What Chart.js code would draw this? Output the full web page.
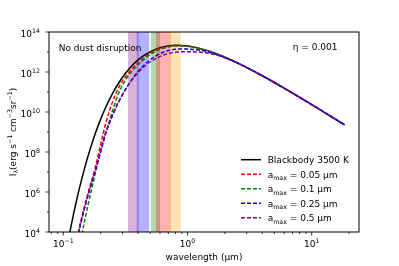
<!DOCTYPE html>
<html>
<head>
<meta charset="utf-8">
<script src="https://cdn.jsdelivr.net/npm/chart.js@4.4.1/dist/chart.umd.min.js"></script>
<style>
html, body { margin: 0; padding: 0; background: #fff; }
canvas { display: block; }
</style>
</head>
<body>
<canvas id="grafico" width="399" height="266"></canvas>
<script>
// longitudes de onda (um)
const wavelength = [0.11, 0.12, 0.13, 0.14, 0.15, 0.16, 0.18, 0.20, 0.22, 0.25, 0.28, 0.32, 0.36, 0.40, 0.45, 0.50, 0.56, 0.63, 0.70, 0.80, 0.90, 1.0, 1.2, 1.4, 1.7, 2.0, 2.5, 3, 4, 5, 6, 8, 10, 12, 15, 18.4];

// I_lambda (erg s-1 cm-3 sr-1)
const blackbody = [4.36e3, 6.34e4, 5.93e5, 3.91e6, 1.97e7, 7.89e7, 7.62e8, 4.41e9, 1.77e10, 8.81e10, 2.91e11, 9.35e11, 2.17e12, 4.01e12, 6.97e12, 1.02e13, 1.40e13, 1.76e13, 2.00e13, 2.15e13, 2.12e13, 1.99e13, 1.61e13, 1.24e13, 8.20e12, 5.47e12, 2.92e12, 1.67e12, 6.49e11, 2.99e11, 1.56e11, 5.42e10, 2.34e10, 1.17e10, 4.98e9, 2.26e9];
const amax005 = [4.16e1, 6.49e2, 6.35e3, 4.49e4, 2.48e5, 1.09e6, 1.52e7, 2.48e8, 2.81e9, 3.35e10, 1.75e11, 6.32e11, 1.50e12, 2.84e12, 5.53e12, 8.91e12, 1.28e13, 1.64e13, 1.91e13, 2.10e13, 2.07e13, 1.96e13, 1.61e13, 1.24e13, 8.20e12, 5.47e12, 2.92e12, 1.67e12, 6.49e11, 2.99e11, 1.56e11, 5.42e10, 2.34e10, 1.17e10, 4.98e9, 2.26e9];
const amax01 = [2.18e0, 4.00e1, 4.71e2, 5.52e3, 4.94e4, 3.14e5, 7.62e6, 1.11e8, 8.89e8, 1.24e10, 9.20e10, 4.38e11, 1.16e12, 2.31e12, 4.40e12, 7.41e12, 1.11e13, 1.50e13, 1.79e13, 2.00e13, 2.02e13, 1.92e13, 1.57e13, 1.24e13, 8.20e12, 5.47e12, 2.92e12, 1.67e12, 6.49e11, 2.99e11, 1.56e11, 5.42e10, 2.34e10, 1.17e10, 4.98e9, 2.26e9];
const amax025 = [3.46e1, 5.40e2, 5.28e3, 3.73e4, 2.06e5, 8.85e5, 1.00e7, 1.06e8, 8.89e8, 7.00e9, 3.27e10, 1.48e11, 4.53e11, 1.05e12, 2.31e12, 4.07e12, 6.56e12, 9.46e12, 1.18e13, 1.36e13, 1.43e13, 1.41e13, 1.28e13, 1.08e13, 7.66e12, 5.35e12, 2.92e12, 1.67e12, 6.49e11, 2.99e11, 1.56e11, 5.42e10, 2.34e10, 1.17e10, 4.98e9, 2.26e9];
const amax05 = [3.88e1, 6.05e2, 5.93e3, 4.19e4, 2.31e5, 9.93e5, 1.08e7, 1.16e8, 9.98e8, 7.85e9, 3.50e10, 1.48e11, 4.33e11, 9.62e11, 1.92e12, 3.16e12, 4.86e12, 6.70e12, 8.36e12, 9.82e12, 1.04e13, 1.04e13, 1.01e13, 9.18e12, 7.14e12, 5.11e12, 2.85e12, 1.67e12, 6.49e11, 2.99e11, 1.56e11, 5.42e10, 2.34e10, 1.17e10, 4.98e9, 2.26e9];

// bandas fotometricas (um)
const bandStart = [0.332, 0.390, 0.506, 0.557, 0.710];
const bandEnd = [0.405, 0.492, 0.601, 0.732, 0.881];
const bandColors = ["rgba(128,0,128,0.3)", "rgba(0,0,255,0.3)", "rgba(0,128,0,0.3)", "rgba(255,0,0,0.3)", "rgba(255,165,0,0.3)"];

// leyenda
const seriesNames = ["Blackbody 3500 K", "0.05", "0.1", "0.25", "0.5"];
const seriesColors = ["#000000", "#ff0000", "#008000", "#0000ff", "#800080"];

// ticks
const xMajor = [0.1, 1, 10];
const xMajorExp = ["\u22121", "0", "1"];
const xMinor = [0.08, 0.09, 0.2, 0.3, 0.4, 0.5, 0.6, 0.7, 0.8, 0.9, 2, 3, 4, 5, 6, 7, 8, 9, 20];
const yMajor = [1e4, 1e6, 1e8, 1e10, 1e12, 1e14];
const yMajorExp = ["4", "6", "8", "10", "12", "14"];
const yMinor = [1e5, 1e7, 1e9, 1e11, 1e13];

const FONT = '"DejaVu Sans", sans-serif';

function puntos(valores) {
    return wavelength.map((w, i) => ({ x: w, y: valores[i] }));
}

// texto con sub/superindices: partes [{t, m}] m = "sup" | "sub" | ""
function textoRico(ctx, partes, x, y, size, align) {
    const small = size * 0.7;
    const anchos = partes.map(p => {
        ctx.font = (p.m ? small : size) + "px " + FONT;
        return ctx.measureText(p.t).width;
    });
    const total = anchos.reduce((a, b) => a + b, 0);
    let cx = align === "right" ? x - total : align === "center" ? x - total / 2 : x;
    ctx.textAlign = "left";
    ctx.textBaseline = "alphabetic";
    partes.forEach((p, i) => {
        ctx.font = (p.m ? small : size) + "px " + FONT;
        const dy = p.m === "sup" ? -size * 0.4 : p.m === "sub" ? size * 0.3 : 0;
        ctx.fillText(p.t, cx, y + dy);
        cx += anchos[i];
    });
}

const decorado = {
    id: "decorado",
    beforeDatasetsDraw(chart) {
        const { ctx, chartArea: a, scales: { x } } = chart;
        ctx.save();
        ctx.beginPath();
        ctx.rect(a.left, a.top, a.right - a.left, a.bottom - a.top);
        ctx.clip();
        bandStart.forEach((b, i) => {
            const x0 = x.getPixelForValue(b);
            const x1 = x.getPixelForValue(bandEnd[i]);
            ctx.fillStyle = bandColors[i];
            ctx.fillRect(x0, a.top, x1 - x0, a.bottom - a.top);
        });
        ctx.restore();
    },
    afterDraw(chart) {
        const { ctx, chartArea: a, scales: { x, y } } = chart;
        ctx.save();
        ctx.fillStyle = "#000";
        ctx.strokeStyle = "#000";

        // marco
        ctx.lineWidth = 1;
        ctx.strokeRect(a.left, a.top, a.right - a.left, a.bottom - a.top);

        // ticks eje x
        ctx.lineWidth = 0.8;
        ctx.beginPath();
        xMajor.forEach(v => {
            const px = x.getPixelForValue(v);
            ctx.moveTo(px, a.bottom); ctx.lineTo(px, a.bottom + 3.5);
        });
        xMinor.forEach(v => {
            const px = x.getPixelForValue(v);
            ctx.moveTo(px, a.bottom); ctx.lineTo(px, a.bottom + 2);
        });
        // ticks eje y
        yMajor.forEach(v => {
            const py = y.getPixelForValue(v);
            ctx.moveTo(a.left, py); ctx.lineTo(a.left - 3.5, py);
        });
        yMinor.forEach(v => {
            const py = y.getPixelForValue(v);
            ctx.moveTo(a.left, py); ctx.lineTo(a.left - 2, py);
        });
        ctx.stroke();

        // etiquetas
        xMajor.forEach((v, i) => {
            const px = x.getPixelForValue(v);
            textoRico(ctx, [{ t: "10", m: "" }, { t: xMajorExp[i], m: "sup" }], px, a.bottom + 15, 9, "center");
        });
        yMajor.forEach((v, i) => {
            const py = y.getPixelForValue(v);
            textoRico(ctx, [{ t: "10", m: "" }, { t: yMajorExp[i], m: "sup" }], 40, py + 4.6, 9, "right");
        });

        // titulo eje y
        ctx.save();
        ctx.translate(15.5, (a.top + a.bottom) / 2);
        ctx.rotate(-Math.PI / 2);
        textoRico(ctx, [
            { t: "I", m: "" }, { t: "\u03bb", m: "sub" }, { t: "(erg s", m: "" }, { t: "\u22121", m: "sup" },
            { t: " cm", m: "" }, { t: "\u22123", m: "sup" }, { t: "sr", m: "" }, { t: "\u22121", m: "sup" }, { t: ")", m: "" }
        ], 0, 0, 9, "center");
        ctx.restore();

        // anotaciones
        ctx.font = "9px " + FONT;
        ctx.textAlign = "left";
        ctx.textBaseline = "middle";
        ctx.fillText("No dust disruption", 58.7, 49);
        ctx.fillText("\u03b7 = 0.001", 292.7, 47.7);

        // leyenda
        const filas = [159.7, 174.3, 188.7, 203.3, 217.7];
        seriesNames.forEach((nombre, i) => {
            const fy = filas[i];
            ctx.strokeStyle = seriesColors[i];
            ctx.lineWidth = 1.5;
            ctx.setLineDash(i === 0 ? [] : [4, 2]);
            ctx.beginPath();
            ctx.moveTo(241, fy); ctx.lineTo(261, fy);
            ctx.stroke();
            ctx.setLineDash([]);
            ctx.fillStyle = "#000";
            if (i === 0) {
                textoRico(ctx, [{ t: nombre, m: "" }], 267.7, fy + 3.3, 9, "left");
            } else {
                textoRico(ctx, [{ t: "a", m: "" }, { t: "max", m: "sub" }, { t: " = " + nombre + " \u03bcm", m: "" }], 267.7, fy + 3.3, 9, "left");
            }
        });
        ctx.restore();
    }
};

function serie(label, valores, color, dashed, orden) {
    return {
        label,
        data: puntos(valores),
        borderColor: color,
        backgroundColor: color,
        borderWidth: 1.5,
        borderDash: dashed ? [4, 2] : [],
        pointRadius: 0,
        cubicInterpolationMode: "monotone",
        fill: false,
        order: orden
    };
}

const grafico = new Chart(document.getElementById("grafico").getContext("2d"), {
    type: "line",
    data: {
        datasets: [
            serie("Blackbody 3500 K", blackbody, seriesColors[0], false, 5),
            serie("a_max = 0.05 um", amax005, seriesColors[1], true, 4),
            serie("a_max = 0.1 um", amax01, seriesColors[2], true, 3),
            serie("a_max = 0.25 um", amax025, seriesColors[3], true, 2),
            serie("a_max = 0.5 um", amax05, seriesColors[4], true, 1)
        ]
    },
    options: {
        responsive: false,
        animation: false,
        devicePixelRatio: 1,
        layout: { padding: { top: 32, right: 40, left: 0, bottom: 0 } },
        plugins: {
            legend: { display: false },
            tooltip: { enabled: false }
        },
        scales: {
            x: {
                type: "logarithmic",
                min: 0.0767,
                max: 24.03,
                ticks: { display: false },
                grid: { display: false },
                border: { display: false },
                title: {
                    display: true,
                    text: "wavelength (\u03bcm)",
                    color: "#000",
                    font: { family: "DejaVu Sans", size: 9 },
                    padding: { top: 0, bottom: 3 }
                },
                afterFit: s => { s.height = 34; }
            },
            y: {
                type: "logarithmic",
                min: 1e4,
                max: 1e14,
                ticks: { display: false },
                grid: { display: false },
                border: { display: false },
                afterFit: s => { s.width = 49; }
            }
        }
    },
    plugins: [decorado]
});
</script>
</body>
</html>
